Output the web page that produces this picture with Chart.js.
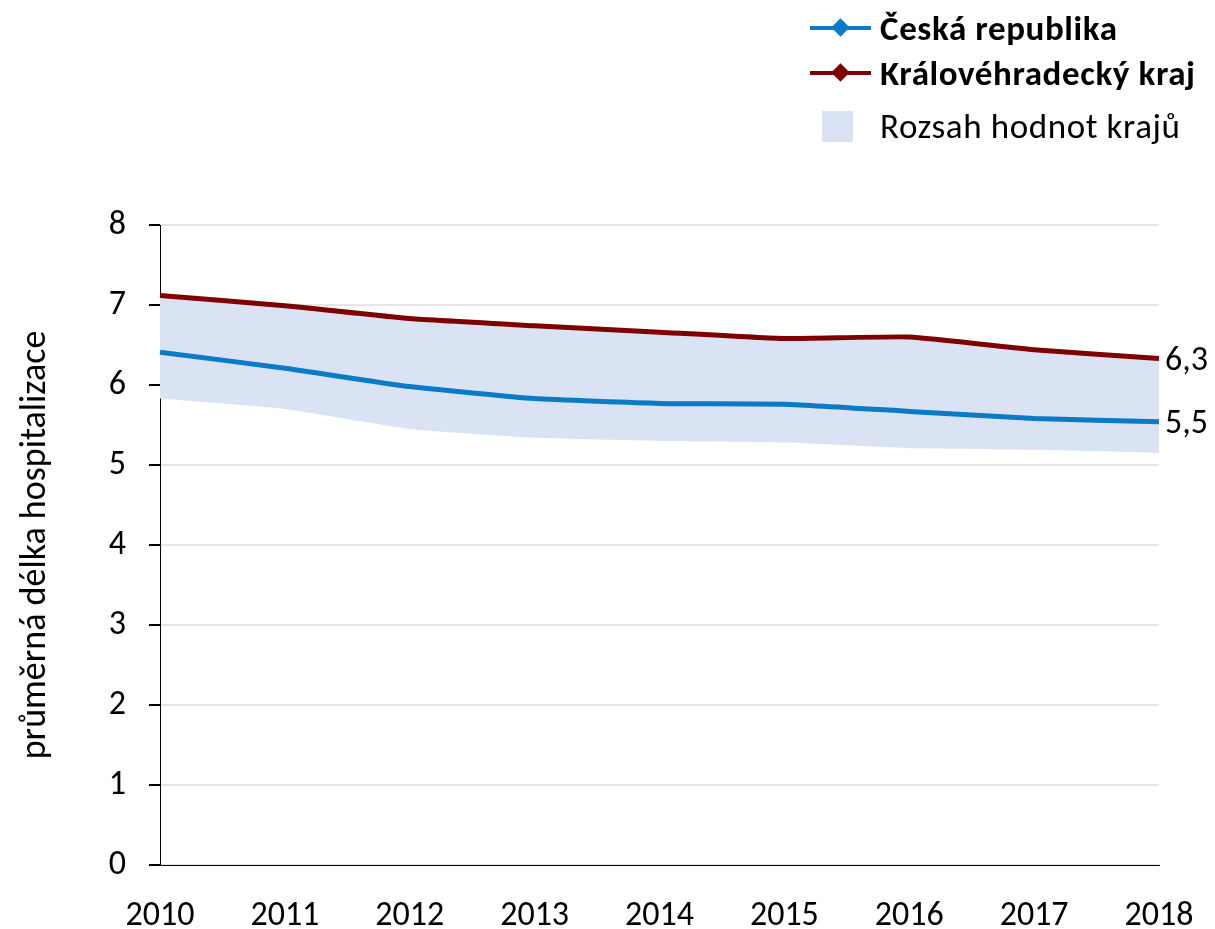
<!DOCTYPE html>
<html lang="cs">
<head>
<meta charset="UTF-8">
<title>Průměrná délka hospitalizace</title>
<script src="https://cdn.jsdelivr.net/npm/chart.js"></script>
<style>
  html, body { margin: 0; padding: 0; background: #fff; }
  #wrap { position: relative; width: 1215px; height: 929px; font-family: Carlito, Lato, "Open Sans", sans-serif; }
  #legend { position: absolute; left: 810px; top: 5px; font-size: 35px; letter-spacing: 0.6px; color: #000; white-space: nowrap; }
  .item { display: flex; align-items: center; height: 45px; }
  .item b { font-weight: bold; }
  .sym { width: 70px; height: 30px; position: relative; flex: none; }
  .line { position: absolute; left: 0; right: 9px; top: 13px; height: 4px; }
  .dia { position: absolute; left: 24px; top: 8px; width: 13px; height: 13px; transform: rotate(45deg); }
  .box { position: absolute; left: 12px; top: 0; width: 31px; height: 31px; background: #DAE3F3; }
</style>
</head>
<body>
<div id="wrap">
  <canvas id="chart" width="1215" height="929"></canvas>
  <div id="legend">
    <div class="item"><div class="sym"><div class="line" style="background:#0A7BC4"></div><div class="dia" style="background:#0A7BC4"></div></div><b>Česká republika</b></div>
    <div class="item"><div class="sym"><div class="line" style="background:#7F0000"></div><div class="dia" style="background:#7F0000"></div></div><b>Královéhradecký kraj</b></div>
    <div class="item" style="height:62px"><div class="sym"><div class="box"></div></div>Rozsah hodnot krajů</div>
  </div>
</div>
<script>
var years = ['2010', '2011', '2012', '2013', '2014', '2015', '2016', '2017', '2018'];
var ceskaRepublika = [6.41, 6.21, 5.98, 5.83, 5.77, 5.76, 5.67, 5.58, 5.54];
var kralovehradecky = [7.12, 6.99, 6.83, 6.74, 6.66, 6.58, 6.60, 6.44, 6.33];
var rozsahMin = [5.83, 5.70, 5.45, 5.34, 5.30, 5.28, 5.21, 5.19, 5.15];
var rozsahMax = [7.12, 6.99, 6.83, 6.74, 6.66, 6.58, 6.60, 6.44, 6.33];

var font = 'Carlito, Lato, "Open Sans", sans-serif';

// label at the last point of the two lines
var endLabels = {
    id: 'endLabels',
    afterDatasetsDraw: function(chart) {
        var ctx = chart.ctx;
        ctx.save();
        ctx.font = '34px ' + font;
        ctx.fillStyle = '#000';
        ctx.textBaseline = 'middle';
        [2, 3].forEach(function(i) {
            var meta = chart.getDatasetMeta(i);
            var pt = meta.data[meta.data.length - 1];
            var v = chart.data.datasets[i].data[meta.data.length - 1];
            ctx.fillText(v.toFixed(1).replace('.', ','), pt.x + 6, pt.y + 3);
        });
        ctx.restore();
    }
};

new Chart(document.getElementById('chart').getContext('2d'), {
    type: 'line',
    data: {
        labels: years,
        datasets: [
            { label: 'min', data: rozsahMin, borderWidth: 0, pointRadius: 0, fill: '+1', backgroundColor: '#DAE3F3', tension: 0.15, order: 2 },
            { label: 'Rozsah hodnot krajů', data: rozsahMax, borderWidth: 0, pointRadius: 0, fill: false, tension: 0.15, order: 2 },
            { label: 'Česká republika', data: ceskaRepublika, borderColor: '#0A7BC4', borderWidth: 5, pointRadius: 0, fill: false, tension: 0.15, order: 0 },
            { label: 'Královéhradecký kraj', data: kralovehradecky, borderColor: '#7F0000', borderWidth: 5, pointRadius: 0, fill: false, tension: 0.15, order: 0 }
        ]
    },
    options: {
        responsive: false,
        animation: false,
        layout: { padding: { left: 0, right: 56, top: 225, bottom: 0 } },
        plugins: { legend: { display: false }, tooltip: { enabled: false } },
        scales: {
            x: {
                offset: false,
                grid: { display: false, drawTicks: true, tickLength: 10, tickColor: '#000' },
                border: { color: '#000', width: 1 },
                ticks: { color: '#000', font: { family: font, size: 34 }, padding: 21, maxRotation: 0 },
                afterFit: function(s) { s.height = 64; }
            },
            y: {
                min: 0, max: 8,
                ticks: { stepSize: 1, color: '#000', font: { family: font, size: 34 }, padding: 23 },
                grid: { color: '#E6E6E6', lineWidth: 2, tickLength: 11, tickColor: '#000' },
                border: { color: '#000', width: 1 },
                title: { display: true, text: 'průměrná délka hospitalizace', color: '#000', font: { family: font, size: 36 }, padding: { top: 14, bottom: 0 } },
                afterFit: function(s) { s.width = 160; }
            }
        }
    },
    plugins: [endLabels]
});
</script>
</body>
</html>
